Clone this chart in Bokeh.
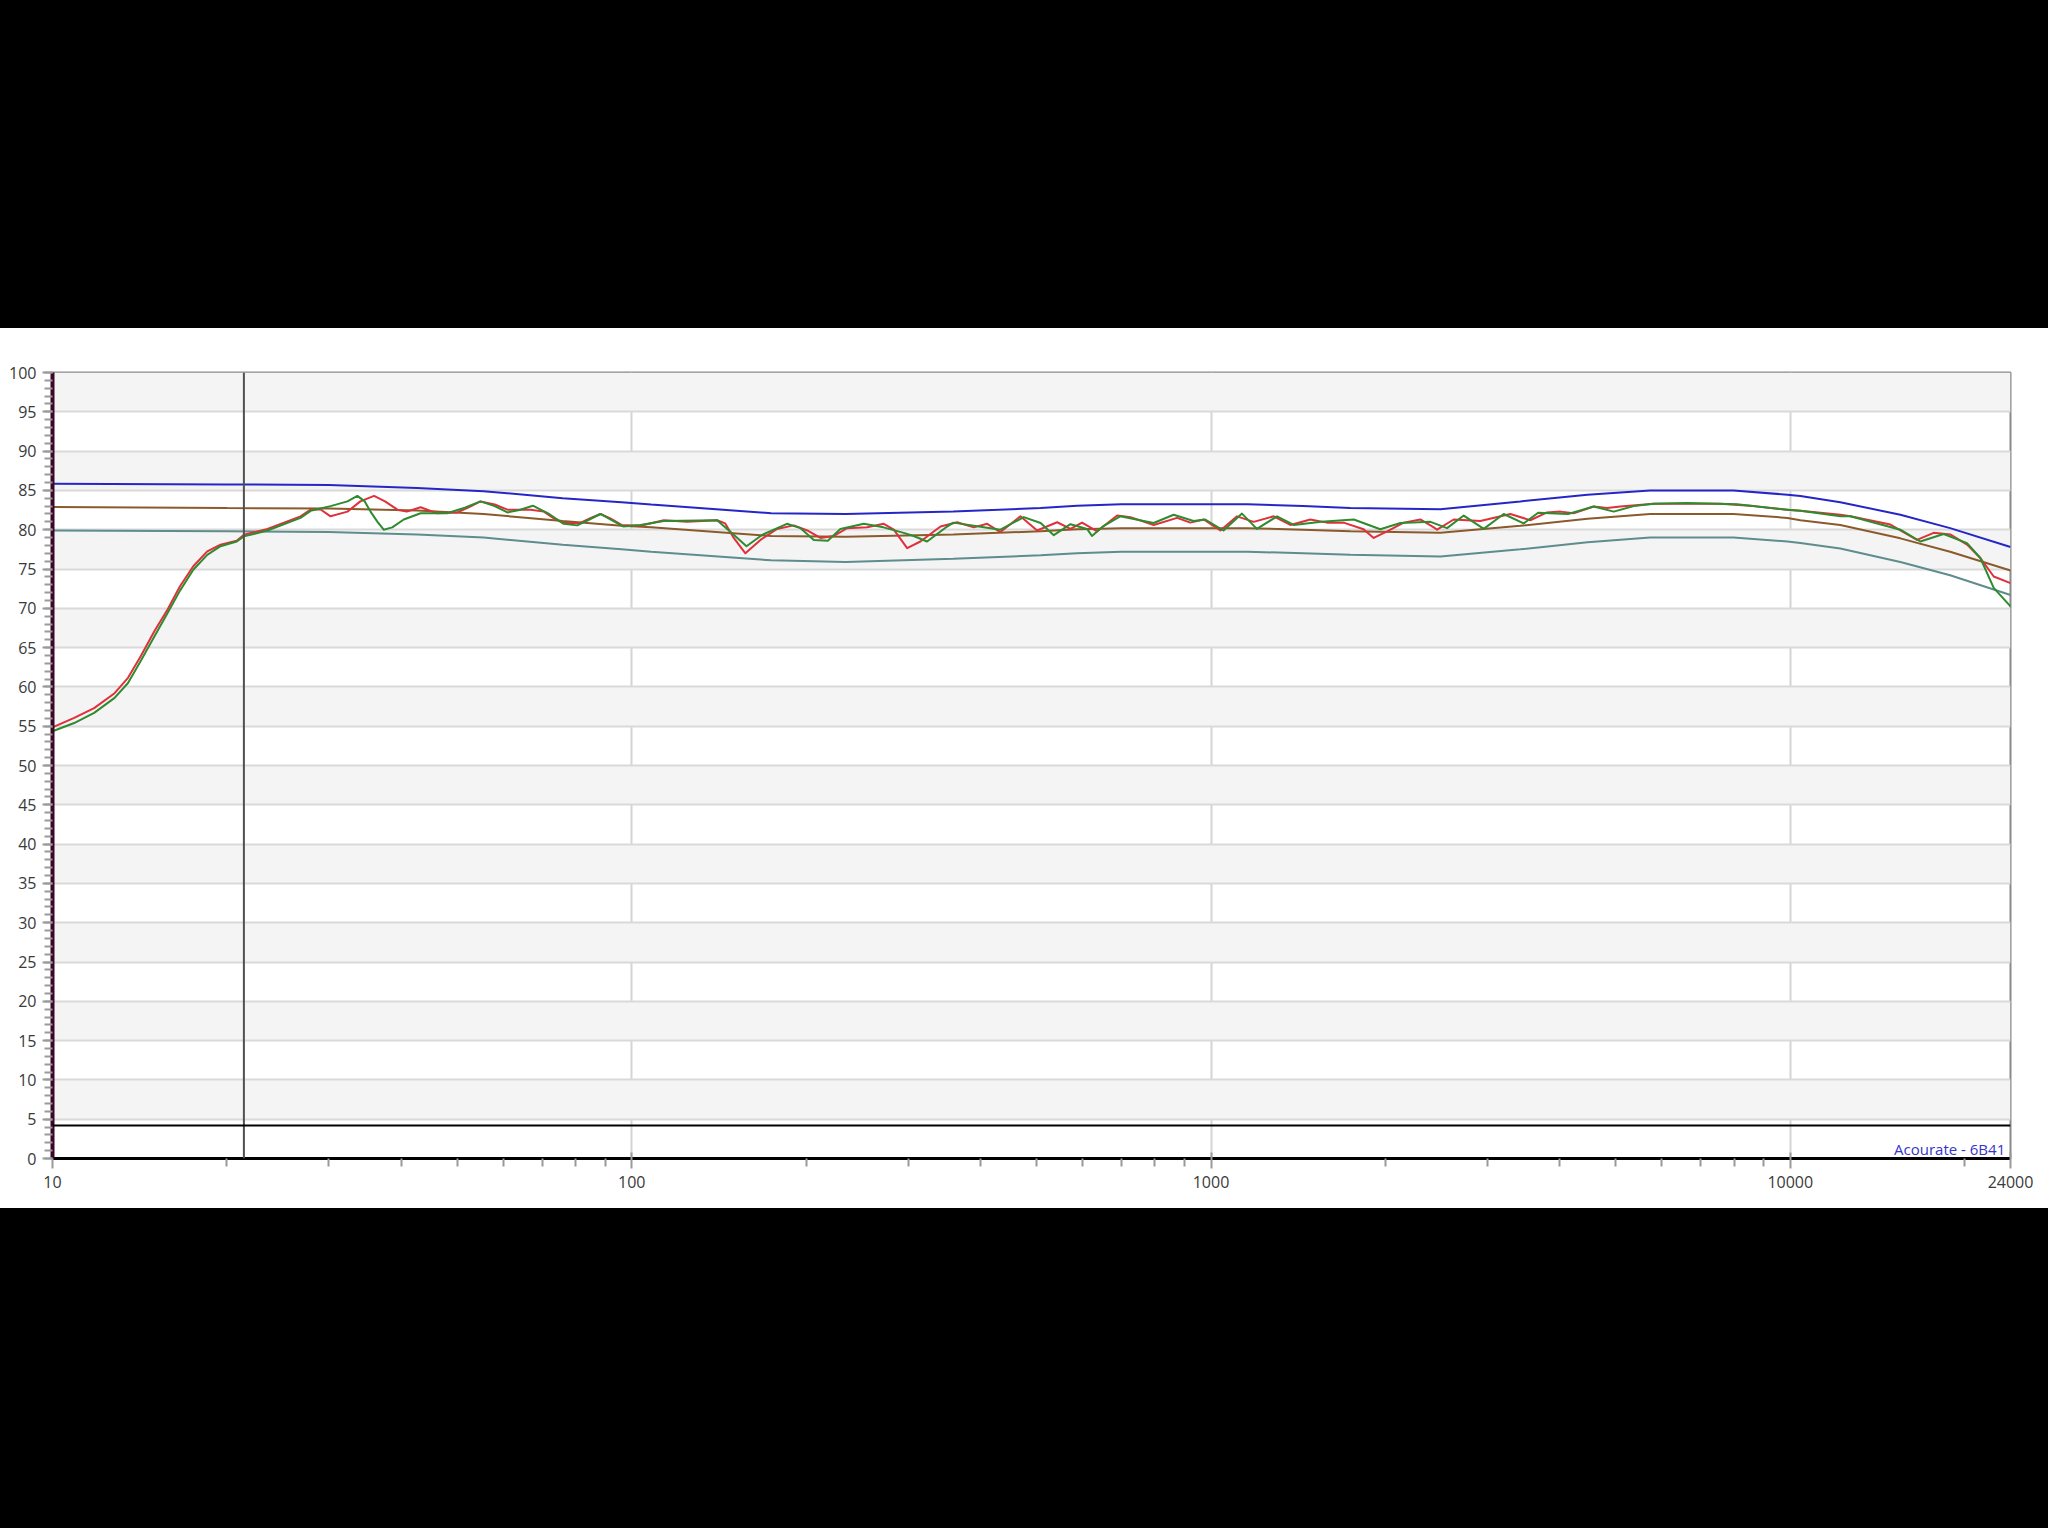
from bokeh.plotting import figure
from bokeh.models import (FixedTicker, SingleIntervalTicker, Span, Label, Div,
                          PrintfTickFormatter, Range1d)
from bokeh.layouts import column
from bokeh.embed import file_html
from bokeh.resources import INLINE

# ---------------- data ----------------
red_freq = [10.0, 10.9, 11.8, 12.8, 13.5, 14.2, 15.0, 15.8, 16.6, 17.5, 18.5, 19.5, 20.8, 21.4,
            23.5, 26.8, 27.9, 29.0, 30.2, 32.3, 34.0, 35.9, 37.5, 39.4, 40.9, 43.2, 46.1, 50.0, 52.5,
            54.8, 58.0, 61.0, 66.9, 70.5, 73.5, 76.3, 81.5, 85.0, 88.3, 92.0, 96.0, 103.5, 113.6,
            124.6, 140.4, 145.0, 150.0, 157.1, 166.8, 178.2, 190.4, 200.9, 211.7, 223.3, 235.4,
            254.9, 272.3, 283.4, 298.8, 315.0, 341.2, 364.6, 389.4, 410.7, 433.0, 468.8, 501.0,
            542.5, 571.9, 599.0, 636.0, 688.6, 726.0, 796.3, 873.9, 921.0, 971.4, 1038, 1109,
            1185, 1283, 1371, 1484, 1586, 1694, 1834, 1909, 2014, 2151, 2298, 2424, 2457, 2624,
            2917, 3287, 3558, 3803, 4011, 4227, 4578, 4828, 5090, 5810, 7573, 8646, 9873, 10410,
            12210, 12700, 14890, 16550, 17680, 18890, 20190, 21290, 22450, 24000]
red_db = [54.85, 56.05, 57.3, 59.2, 61.15, 63.9, 67.1, 69.85, 72.8, 75.35, 77.25, 78.1, 78.6, 79.35,
          80.1, 81.7, 82.55, 82.6, 81.7, 82.3, 83.6, 84.3, 83.6, 82.55, 82.3, 82.85, 82.1, 82.2, 82.9,
          83.6, 83.2, 82.55, 82.55, 82.3, 81.4, 80.85, 80.85, 81.5, 82.0, 81.4, 80.6, 80.5, 81.2,
          81.0, 81.2, 80.8, 78.95, 77.0, 78.7, 80.1, 80.55, 79.9, 78.95, 79.2, 80.2,
          80.3, 80.75, 80.0, 77.65, 78.5, 80.4, 80.95, 80.3, 80.75, 79.7, 81.7, 79.9,
          80.95, 80.1, 80.9, 79.8, 81.8, 81.6, 80.6, 81.5, 80.9, 81.3, 79.9, 81.7,
          81.0, 81.7, 80.6, 81.3, 80.9, 80.9, 80.05, 78.95, 79.8, 80.9, 81.3, 80.3, 80.0, 81.3,
          81.1, 82.0, 81.2, 82.2, 82.3, 82.1, 82.95, 82.75, 82.95, 83.3, 83.3, 83.0, 82.55, 82.4,
          81.9, 81.7, 80.65, 78.7, 79.6, 79.4, 78.1, 76.4, 74.05, 73.2]

green_freq = [10.0, 10.9, 11.8, 12.8, 13.5, 14.2, 15.0, 15.8, 16.6, 17.5, 18.5, 19.5, 20.8, 21.4,
              23.5, 26.8, 27.9, 30.2, 32.3, 33.6, 34.6, 35.4, 36.4, 37.3, 38.6, 40.4, 43.2, 48.0,
              51.5, 54.8, 58.0, 61.0, 64.0, 67.5, 72.0, 76.3, 80.5, 84.5, 88.3, 92.5, 96.8, 103.5,
              113.6, 140.4, 150.0, 157.8, 168.0, 185.3, 195.6, 206.2, 218.0, 229.2, 251.5, 272.0,
              294.8, 306.7, 323.5, 350.3, 359.0, 405.3, 433.0, 475.0, 508.0, 535.3, 572.0, 611.0,
              623.0, 653.0, 697.0, 796.0, 862.0, 933.0, 977.5, 1051, 1131, 1200, 1300, 1389, 1550,
              1764, 1960, 2123, 2393, 2556, 2731, 2957, 3201, 3465, 3671, 4136, 4578, 4958, 5366,
              5810, 6634, 8091, 9873, 10410, 12210, 12700, 15490, 16770, 18400, 20190, 21290,
              22450, 24000]
green_db = [54.35, 55.4, 56.7, 58.6, 60.5, 63.3, 66.45, 69.4, 72.25, 74.9, 76.8, 77.9, 78.5, 79.15,
            79.9, 81.5, 82.4, 83.0, 83.6, 84.3, 83.6, 82.3, 81.0, 80.0, 80.3, 81.3, 82.1, 82.1,
            82.8, 83.6, 83.0, 82.2, 82.5, 83.05, 82.0, 80.75, 80.55, 81.3, 82.0, 81.2, 80.4, 80.6,
            81.1, 81.2, 79.35, 77.9, 79.35, 80.75, 80.2, 78.7, 78.6, 80.1, 80.75, 80.3,
            79.6, 79.2, 78.5, 80.4, 80.9, 80.3, 80.0, 81.6, 80.85, 79.3, 80.7, 80.1,
            79.2, 80.5, 81.7, 80.85, 81.9, 81.1, 81.3, 79.9, 82.05, 80.1, 81.7, 80.6, 81.0,
            81.3, 80.05, 80.85, 81.0, 80.2, 81.8, 80.1, 82.0, 80.8, 82.15, 82.0, 82.95, 82.3, 83.0,
            83.3, 83.4, 83.25, 82.55, 82.4, 81.7, 81.7, 80.0, 78.5, 79.45, 78.3, 76.4,
            72.6, 70.25]

tol_freq = [10, 20, 30, 42.6, 55.5, 76, 96, 108, 174, 234, 359, 508, 587, 700, 1156, 1442, 1740,
            2489, 3420, 4467, 5730, 7980, 9890, 10410, 12200, 15490, 18880, 24000]
upper_db = [85.85, 85.75, 85.7, 85.3, 84.9, 84.0, 83.5, 83.2, 82.1, 82.0, 82.3, 82.75, 83.05, 83.25,
            83.25, 83.0, 82.75, 82.6, 83.6, 84.45, 85.0, 85.0, 84.45, 84.3, 83.5, 81.9, 80.2, 77.8]
target_db = [82.9, 82.75, 82.7, 82.45, 82.0, 81.1, 80.5, 80.3, 79.2, 79.1, 79.4, 79.8, 80.05, 80.2,
             80.2, 80.0, 79.8, 79.6, 80.5, 81.4, 82.0, 82.0, 81.5, 81.2, 80.6, 78.9, 77.2, 74.8]
lower_db = [79.9, 79.8, 79.7, 79.4, 79.0, 78.1, 77.5, 77.2, 76.1, 75.9, 76.3, 76.75, 77.0, 77.2,
            77.2, 77.0, 76.8, 76.6, 77.5, 78.4, 79.0, 79.0, 78.5, 78.3, 77.6, 75.9, 74.2, 71.7]

x_major_ticks = [10, 100, 1000, 10000, 24000]
x_minor_ticks = [20, 30, 40, 50, 60, 70, 80, 90, 200, 300, 400, 500, 600, 700, 800, 900,
                 2000, 3000, 4000, 5000, 6000, 7000, 8000, 9000, 20000]
x_grid_ticks = [100, 1000, 10000]
cursor_freq = 21.4
divider_db = 4.2
watermark = "Acourate - 6B41"

FONT = "Open Sans"

p = figure(width=2048, height=880, x_axis_type="log",
           x_range=Range1d(10, 24000), y_range=Range1d(0, 100),
           output_backend="svg", toolbar_location=None,
           min_border_left=52, min_border_right=38, min_border_top=44, min_border_bottom=50,
           background_fill_color="white", border_fill_color="white",
           outline_line_color="#8a8a8a", outline_line_width=2)

# y axis / grid
yt = SingleIntervalTicker(interval=5, num_minor_ticks=5)
p.yaxis.ticker = yt
p.ygrid.ticker = yt
p.ygrid.grid_line_color = "#d9d9d9"
p.ygrid.grid_line_width = 2
p.ygrid.band_fill_color = "#f4f4f4"
p.ygrid.band_fill_alpha = 1.0
p.yaxis.axis_line_color = "#3a0826"
p.yaxis.axis_line_width = 4
p.yaxis.major_tick_line_color = "#9a9a9a"
p.yaxis.minor_tick_line_color = "#9a9a9a"
p.yaxis.major_tick_line_width = 2
p.yaxis.minor_tick_line_width = 2
p.yaxis.major_tick_in = 0
p.yaxis.major_tick_out = 10
p.yaxis.minor_tick_in = 0
p.yaxis.minor_tick_out = 8
p.yaxis.major_label_standoff = 6

# x axis / grid
p.xaxis.ticker = FixedTicker(ticks=x_major_ticks, minor_ticks=x_minor_ticks)
p.xaxis.formatter = PrintfTickFormatter(format="%d")
p.xgrid.ticker = FixedTicker(ticks=x_grid_ticks)
p.xgrid.grid_line_color = "#d4d4d4"
p.xgrid.grid_line_width = 2
p.xaxis.axis_line_color = "black"
p.xaxis.axis_line_width = 3
p.xaxis.major_tick_line_color = "#9a9a9a"
p.xaxis.minor_tick_line_color = "#9a9a9a"
p.xaxis.major_tick_line_width = 2
p.xaxis.minor_tick_line_width = 2
p.xaxis.major_tick_in = 6
p.xaxis.major_tick_out = 10
p.xaxis.minor_tick_in = 0
p.xaxis.minor_tick_out = 8
p.xaxis.major_label_standoff = 7

for ax in (p.xaxis, p.yaxis):
    ax.major_label_text_font = FONT
    ax.major_label_text_font_size = "16px"
    ax.major_label_text_color = "#3a3a3a"

# tolerance band and target
p.line(tol_freq, lower_db, line_color="#5f8c8c", line_width=2)
p.line(tol_freq, target_db, line_color="#8b5a2b", line_width=2)
p.line(tol_freq, upper_db, line_color="#2626c8", line_width=2)

# measurements
p.line(red_freq, red_db, line_color="#e0303c", line_width=2, line_join="round")
p.line(green_freq, green_db, line_color="#2e8b2e", line_width=2, line_join="round")

p.add_layout(Span(location=cursor_freq, dimension="height", line_color="#505050", line_width=2))
p.add_layout(Span(location=divider_db, dimension="width", line_color="black", line_width=2))

p.add_layout(Label(x=23500, y=1.2, text=watermark, text_align="right", text_baseline="middle",
                   text_font=FONT, text_font_size="15px", text_color="#3535c8"))

top = Div(width=2048, height=328, margin=0, styles={"background-color": "black"})
bottom = Div(width=2048, height=320, margin=0, styles={"background-color": "black"})
layout = column(top, p, bottom, spacing=0)

open("out.html", "w").write(file_html(layout, INLINE))
